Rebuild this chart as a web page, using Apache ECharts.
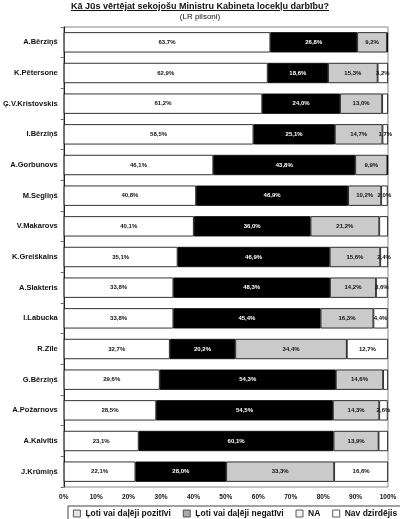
<!DOCTYPE html>
<html>
<head>
<meta charset="utf-8">
<script src="https://cdn.jsdelivr.net/npm/echarts@6/dist/echarts.min.js"></script>
<style>
  html, body { margin: 0; padding: 0; background: #fff; }
  #wrap { position: relative; width: 400px; height: 519px; }
  #chart { position: absolute; left: 0; top: 0; width: 400px; height: 519px; }
  #head { position: absolute; left: 0; top: 1px; width: 400px; text-align: center;
          font-family: "Liberation Sans", Arial, sans-serif; color: #111; z-index: 2; }
  #head .t { font-size: 9px; font-weight: bold; text-decoration: underline; line-height: 11px; }
  #head .s { font-size: 8px; line-height: 10px; }
</style>
</head>
<body>
<div id="wrap">
  <div id="head">
    <div class="t">Kā Jūs vērtējat sekojošu Ministru Kabineta locekļu darbību?</div>
    <div class="s">(LR pilsoņi)</div>
  </div>
  <div id="chart"></div>
</div>
<script>
// ministri (no augšas uz leju)
const names = ['A.Bērziņš', 'K.Pētersone', 'Ģ.V.Kristovskis', 'I.Bērziņš', 'A.Gorbunovs',
  'M.Segliņš', 'V.Makarovs', 'K.Greiškalns', 'A.Slakteris', 'I.Labucka', 'R.Zīle',
  'G.Bērziņš', 'A.Požarnovs', 'A.Kalvītis', 'J.Krūmiņš'];

const seriesNames = ['Ļoti vai daļēji pozitīvi', 'Ļoti vai daļēji negatīvi', 'NA', 'Nav dzirdējis'];

// procenti
const positive = [63.7, 62.9, 61.2, 58.5, 46.1, 40.8, 40.1, 35.1, 33.8, 33.8, 32.7, 29.6, 28.5, 23.1, 22.1];
const negative = [26.8, 18.6, 24.0, 25.1, 43.8, 46.9, 36.0, 46.9, 48.3, 45.4, 20.2, 54.3, 54.5, 60.1, 28.0];
const na = [9.2, 15.3, 13.0, 14.7, 9.9, 10.2, 21.2, 15.6, 14.2, 16.3, 34.4, 14.6, 14.3, 13.9, 33.3];
const notHeard = [0.3, 3.2, 1.8, 1.7, 0.2, 2.0, 2.7, 2.4, 3.6, 4.4, 12.7, 1.5, 2.6, 2.9, 16.6];
// kuriem "Nav dzirdējis" segmentiem ir uzraksts
const notHeardLabeled = [false, true, false, true, false, true, false, true, true, true, true, false, true, false, true];

const xTicks = [0, 10, 20, 30, 40, 50, 60, 70, 80, 90, 100];

const fontFamily = '"Liberation Sans", Arial, sans-serif';

const pct = v => v.toFixed(1).replace('.', ',') + '%';

const makeSeries = (name, values, color, textColor, labeled) => ({
  name,
  type: 'bar',
  stack: 'total',
  barWidth: '66%',
  itemStyle: { color, borderColor: '#000', borderWidth: 0.8 },
  label: {
    show: true,
    position: 'inside',
    color: textColor,
    fontSize: 6,
    fontWeight: 'bold',
    fontFamily,
    formatter: p => pct(p.value)
  },
  data: values.map((v, i) => labeled && !labeled[i] ? { value: v, label: { show: false } } : v),
  emphasis: { disabled: true }
});

const chart = echarts.init(document.getElementById('chart'));

chart.setOption({
  animation: false,
  textStyle: { fontFamily },
  grid: { left: 62, right: 12, top: 27, bottom: 32, show: true, borderColor: '#888', borderWidth: 1 },
  legend: {
    top: 506,
    left: 68,
    width: 340,
    padding: [3, 6, 8, 5],
    borderColor: '#444',
    borderWidth: 1,
    icon: 'rect',
    itemWidth: 7,
    itemHeight: 7,
    itemGap: 12,
    textStyle: { fontSize: 8.5, fontWeight: 'bold', color: '#111', fontFamily },
    data: [
      { name: seriesNames[0], itemStyle: { color: '#e6e6e6', borderColor: '#333', borderWidth: 0.8 } },
      { name: seriesNames[1], itemStyle: { color: '#aaa', borderColor: '#333', borderWidth: 0.8 } },
      { name: seriesNames[2], itemStyle: { color: '#f2f2f2', borderColor: '#333', borderWidth: 0.8 } },
      { name: seriesNames[3], itemStyle: { color: '#fff', borderColor: '#333', borderWidth: 0.8 } }
    ]
  },
  xAxis: {
    type: 'value',
    min: xTicks[0],
    max: xTicks[xTicks.length - 1],
    interval: 10,
    axisLine: { show: false },
    axisTick: { show: false },
    splitLine: { show: false },
    axisLabel: { fontSize: 6.5, fontWeight: 'bold', color: '#111', margin: 7, formatter: '{value}%' }
  },
  yAxis: {
    type: 'category',
    inverse: true,
    data: names,
    axisLine: { show: true, lineStyle: { color: '#222', width: 1 } },
    axisTick: { show: true, length: 3, lineStyle: { color: '#666' } },
    axisLabel: { fontSize: 7.5, fontWeight: 'bold', color: '#111', margin: 6 }
  },
  series: [
    makeSeries(seriesNames[0], positive, '#fff', '#111'),
    makeSeries(seriesNames[1], negative, '#000', '#fff'),
    makeSeries(seriesNames[2], na, '#cacaca', '#111'),
    makeSeries(seriesNames[3], notHeard, '#fff', '#111', notHeardLabeled)
  ]
});
</script>
</body>
</html>
